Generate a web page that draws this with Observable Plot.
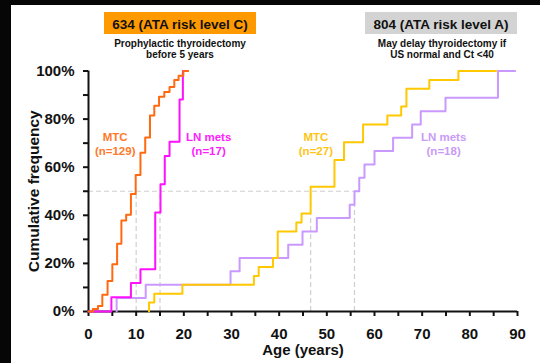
<!DOCTYPE html>
<html><head><meta charset="utf-8">
<script src="https://cdn.jsdelivr.net/npm/d3@7"></script>
<script src="https://cdn.jsdelivr.net/npm/@observablehq/plot@0.6"></script>
<style>
html,body{margin:0;padding:0;background:#060606;width:540px;height:363px;overflow:hidden;font-family:"Liberation Sans",Arial,sans-serif;}
#frame{position:absolute;left:11px;top:5px;width:529px;height:358px;background:#fff;}
.box{position:absolute;top:12px;height:22px;width:152px;font-weight:bold;font-size:13.5px;line-height:25px;text-align:center;color:#111;}
.sub{position:absolute;top:38px;width:220px;font-weight:bold;font-size:10px;line-height:11.4px;text-align:center;color:#111;}
</style></head>
<body>
<div id="frame"><div id="chart"></div></div>
<div class="box" style="left:104px;background:#ff9900">634 (ATA risk level C)</div>
<div class="sub" style="left:70px">Prophylactic thyroidectomy<br>before 5 years</div>
<div class="box" style="left:365px;background:#d3d3d3">804 (ATA risk level A)</div>
<div class="sub" style="left:332px">May delay thyroidectomy if<br>US normal and Ct &lt;40</div>
<script>
// ---- data (age in years, cumulative frequency in %) ----
const mtcC_age = [0, 0.9, 2, 2.9, 4, 5, 6, 6.9, 7.9, 8.9, 9.9, 10.9, 11.9, 12.9, 13.8, 14.8, 15.9, 17, 18, 18.9, 19.9, 20.9];
const mtcC_pct = [0, 1.0, 2.3, 7.0, 12.7, 19.6, 28.2, 37.8, 40.2, 48.9, 56.8, 66.0, 72.4, 81.5, 85.5, 89.3, 91.3, 93.3, 96.3, 98.0, 100, 100];
const lnC_age = [0, 4.8, 8.9, 10.9, 14, 15.1, 16, 17, 19.1, 19.8, 20.8];
const lnC_pct = [0, 5.9, 11.8, 17.6, 41.2, 52.9, 64.7, 70.6, 88.2, 100, 100];
const mtcA_age = [12.7, 12.7, 13.8, 19.7, 34.7, 35.7, 38.7, 39.7, 43.6, 44.7, 46.6, 51.6, 53.6, 57.6, 62.7, 65.6, 66.7, 71.5, 77.6, 85.5];
const mtcA_pct = [0, 3.7, 7.4, 11.1, 14.8, 18.5, 22.2, 33.3, 37.0, 40.7, 51.9, 63.0, 70.4, 77.8, 81.5, 85.2, 92.6, 96.3, 100, 100];
const lnA_age = [5.9, 5.9, 12, 29.8, 31.7, 41.9, 44.9, 47.9, 54.8, 55.8, 56.8, 57.9, 60, 63.9, 67.9, 69.7, 74.9, 85.9, 89.5];
const lnA_pct = [0, 5.6, 11.1, 16.7, 22.2, 27.8, 33.3, 38.9, 44.4, 50.0, 55.6, 61.1, 66.7, 72.2, 77.8, 83.3, 88.9, 100, 100];
const medians = [10, 15, 46.6, 55.8];
const medianLevel = 50;
const seriesNames = ["MTC\n(n=129)", "LN mets\n(n=17)", "MTC\n(n=27)", "LN mets\n(n=18)"];
const xTicks = d3.range(0, 91, 5);
const xTickLabels = ["0","10","20","30","40","50","60","70","80","90"];
const yTicks = d3.range(0, 101, 10);
const yTickLabels = ["0%","20%","40%","60%","80%","100%"];

const zip = (a, b) => a.map((x, i) => ({x, y: b[i]}));
const colors = {mtcC: "#ff6a10", lnC: "#ff10ff", mtcA: "#ffc800", lnA: "#c999ff"};
const labelColors = ["#ff7a2a", "#ff20ff", "#ffc414", "#c99bf8"];
// label anchor spots (annotation placement)
const labelSpots = [[5.6, 70], [25.2, 70], [47.7, 70], [74.5, 70]];
const labels = seriesNames.map((t, i) => ({t, x: labelSpots[i][0], y: labelSpots[i][1], c: labelColors[i]}));

const chart = Plot.plot({
  width: 529, height: 358,
  marginLeft: 77, marginRight: 23, marginTop: 65.5, marginBottom: 52,
  x: {domain: [0, 90]},
  y: {domain: [0, 100]},
  style: {fontFamily: "'Liberation Sans', Arial, sans-serif", fontSize: "15px", fontWeight: "bold", color: "#111", background: "#fff"},
  marks: [
    Plot.ruleX(medians, {x: d => d, y1: 0, y2: medianLevel, stroke: "#cfcfcf", strokeWidth: 1.2, strokeDasharray: "5,3"}),
    Plot.ruleY([medianLevel], {x1: 0, x2: d3.max(medians), stroke: "#cfcfcf", strokeWidth: 1.2, strokeDasharray: "5,3"}),
    Plot.axisX({ticks: xTicks, tickFormat: d => d % 10 === 0 ? xTickLabels[d / 10] : "", tickSize: 5, tickPadding: 12, strokeWidth: 2, label: null, fill: "#111"}),
    Plot.axisY({ticks: yTicks, tickFormat: d => d % 20 === 0 ? yTickLabels[d / 20] : "", tickSize: 5, tickPadding: 9, strokeWidth: 2, label: null, fill: "#111"}),
    Plot.ruleX([0], {stroke: "#111", strokeWidth: 2}),
    Plot.ruleY([0], {stroke: "#111", strokeWidth: 2}),
    Plot.line(zip(lnA_age, lnA_pct), {x: "x", y: "y", curve: "step-after", stroke: colors.lnA, strokeWidth: 2}),
    Plot.line(zip(mtcA_age, mtcA_pct), {x: "x", y: "y", curve: "step-after", stroke: colors.mtcA, strokeWidth: 2}),
    Plot.line(zip(lnC_age, lnC_pct), {x: "x", y: "y", curve: "step-after", stroke: colors.lnC, strokeWidth: 2}),
    Plot.line(zip(mtcC_age, mtcC_pct), {x: "x", y: "y", curve: "step-after", stroke: colors.mtcC, strokeWidth: 2}),
    Plot.text(labels, {x: "x", y: "y", text: "t", fill: "c", fontSize: 11.5, fontWeight: "bold", lineHeight: 1.24}),
    Plot.text(["Age (years)"], {frameAnchor: "bottom", textAnchor: "middle", lineAnchor: "middle", dy: 39, fontSize: 15, fontWeight: "bold", fill: "#111"}),
    Plot.text(["Cumulative frequency"], {frameAnchor: "left", textAnchor: "middle", lineAnchor: "middle", rotate: -90, dx: -54, dy: 0, fontSize: 15.5, fontWeight: "bold", fill: "#111"})
  ]
});
document.getElementById("chart").appendChild(chart);
</script>
</body></html>
